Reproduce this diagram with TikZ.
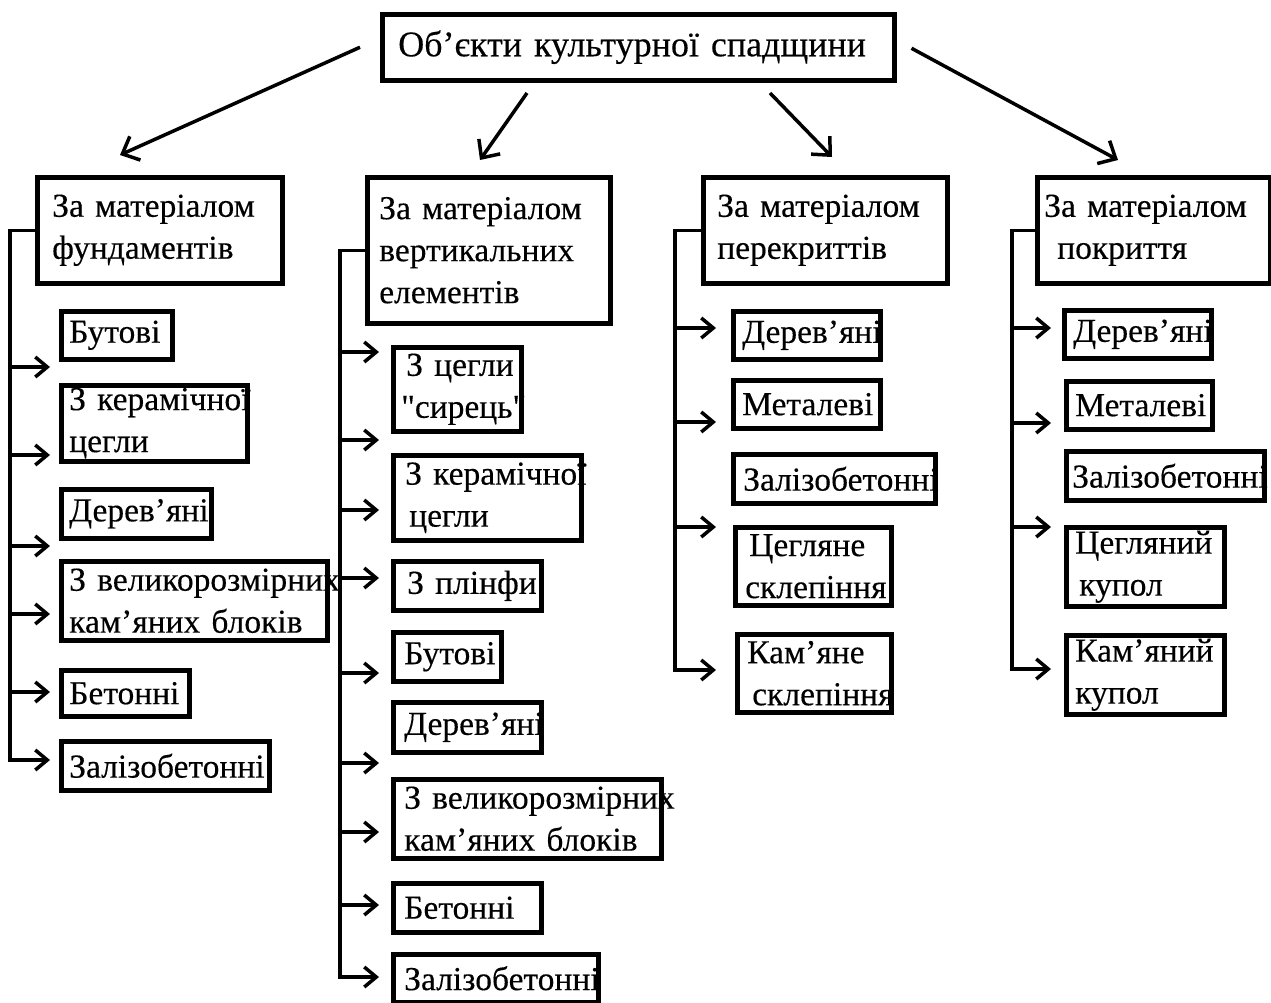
\documentclass[tikz,border=0pt]{standalone}
\usepackage{fontspec}
\newfontfamily\tnr{Liberation Serif}[FakeBold=0.3]
\usetikzlibrary{arrows.meta}
\newcommand{\bfnt}{\tnr\fontsize{33.5}{42}\selectfont}
\newcommand{\tfnt}{\tnr\fontsize{36}{44}\selectfont}
\tikzset{
  bx/.style={draw, line width=4.5pt, anchor=north west, align=left, inner ysep=0pt, font=\bfnt},
  ar/.style={line width=3.5pt, line join=miter, -{Straight Barb[length=12pt,width=20pt]}},
  tar/.style={line width=3.5pt, -{Straight Barb[length=14pt,width=26pt]}},
}
\begin{document}
\begin{tikzpicture}[x=1pt,y=-1pt]
\useasboundingbox (0,0) rectangle (1271,1002);
% title
\node[bx, font=\tfnt, inner xsep=16pt, minimum width=512pt, minimum height=66pt, text width=480pt] (t) at (380,12) {\mbox{Об’єкти культурної спадщини}};
% column 1
\node[bx, inner xsep=15pt, minimum width=245pt, minimum height=106pt, text width=215pt] (h1) at (35,175) {\mbox{За матеріалом}\\\mbox{фундаментів}};
\node[bx, inner xsep=8pt, minimum width=111pt, minimum height=48pt, text width=95pt] (c1a) at (59,309) {\mbox{Бутові}};
\node[bx, inner xsep=8pt, minimum width=186pt, minimum height=76pt, text width=170pt] (c1b) at (59,383) {\mbox{З керамічної}\\\mbox{цегли}};
\node[bx, inner xsep=8pt, minimum width=150pt, minimum height=49pt, text width=134pt] (c1c) at (59,487) {\mbox{Дерев’яні}};
\node[bx, inner xsep=8pt, minimum width=266pt, minimum height=79pt, text width=250pt] (c1d) at (59,559) {\mbox{З великорозмірних}\\\mbox{кам’яних блоків}};
\node[bx, inner xsep=8pt, minimum width=128pt, minimum height=46pt, text width=112pt] (c1e) at (59,668) {\mbox{Бетонні}};
\node[bx, inner xsep=8pt, minimum width=208pt, minimum height=49pt, text width=192pt] (c1f) at (59,739) {\mbox{Залізобетонні}};
% column 2
\node[bx, inner xsep=12pt, minimum width=243pt, minimum height=146pt, text width=219pt] (h2) at (365,175) {\mbox{За матеріалом}\\\mbox{вертикальних}\\\mbox{елементів}};
\node[bx, inner xsep=8pt, minimum width=128pt, minimum height=84pt, text width=112pt] (c2a) at (391,345) {\mbox{\hspace*{5pt}З цегли}\\\mbox{"сирець"}};
\node[bx, inner xsep=12pt, minimum width=188pt, minimum height=85pt, text width=164pt] (c2b) at (391,453) {\mbox{З керамічної}\\\mbox{\hspace*{4pt}цегли}};
\node[bx, inner xsep=14pt, minimum width=148pt, minimum height=49pt, text width=120pt] (c2c) at (391,559) {\mbox{З плінфи}};
\node[bx, inner xsep=11pt, minimum width=108pt, minimum height=49pt, text width=86pt] (c2d) at (391,630) {\mbox{Бутові}};
\node[bx, inner xsep=11pt, minimum width=148pt, minimum height=50pt, text width=126pt] (c2e) at (391,700) {\mbox{Дерев’яні}};
\node[bx, inner xsep=11pt, minimum width=268pt, minimum height=79pt, text width=246pt] (c2f) at (391,777) {\mbox{З великорозмірних}\\\mbox{кам’яних блоків}};
\node[bx, inner xsep=11pt, minimum width=148pt, minimum height=49pt, text width=126pt] (c2g) at (391,881) {\mbox{Бетонні}};
\node[bx, inner xsep=11pt, minimum width=205pt, minimum height=48pt, text width=183pt] (c2h) at (391,952) {\mbox{Залізобетонні}};
% column 3
\node[bx, inner xsep=14pt, minimum width=244pt, minimum height=106pt, text width=216pt] (h3) at (701,175) {\mbox{За матеріалом}\\\mbox{перекриттів}};
\node[bx, inner xsep=9pt, minimum width=147pt, minimum height=48pt, text width=129pt] (c3a) at (731,309) {\mbox{Дерев’яні}};
\node[bx, inner xsep=9pt, minimum width=147pt, minimum height=48pt, text width=129pt] (c3b) at (731,378) {\mbox{Металеві}};
\node[bx, inner xsep=10pt, minimum width=202pt, minimum height=49pt, text width=182pt] (c3c) at (731,452) {\mbox{Залізобетонні}};
\node[bx, inner xsep=10pt, minimum width=156pt, minimum height=78pt, text width=136pt] (c3d) at (733,525) {\mbox{\hspace*{4pt}Цегляне}\\\mbox{склепіння}};
\node[bx, inner xsep=10pt, minimum width=154pt, minimum height=78pt, text width=134pt] (c3e) at (735,632) {\mbox{Кам’яне}\\\mbox{\hspace*{5pt}склепіння}};
% column 4
\node[bx, inner xsep=7pt, minimum width=233pt, minimum height=106pt, text width=219pt] (h4) at (1035,175) {\mbox{За матеріалом}\\\mbox{\hspace*{13pt}покриття}};
\node[bx, inner xsep=9pt, minimum width=147pt, minimum height=48pt, text width=129pt] (c4a) at (1062,308) {\mbox{Дерев’яні}};
\node[bx, inner xsep=9pt, minimum width=146pt, minimum height=48pt, text width=128pt] (c4b) at (1064,379) {\mbox{Металеві}};
\node[bx, inner xsep=6pt, minimum width=198pt, minimum height=49pt, text width=186pt] (c4c) at (1064,449) {\mbox{Залізобетонні}};
\node[bx, inner xsep=9pt, minimum width=158pt, minimum height=79pt, text width=140pt] (c4d) at (1064,525) {\mbox{Цегляний}\\\mbox{\hspace*{4pt}купол}};
\node[bx, inner xsep=9pt, minimum width=158pt, minimum height=79pt, text width=140pt] (c4e) at (1064,633) {\mbox{Кам’яний}\\\mbox{купол}};
% top arrows
\coordinate (e1) at (120,155);
\coordinate (e2) at (480,160);
\coordinate (e3) at (832,157);
\coordinate (e4) at (1118,160);
\draw[tar] ([xshift=-20pt]t.west) -- (e1);
\draw[tar] (527,93) -- (e2);
\draw[tar] (770,93) -- (e3);
\draw[tar] ([xshift=15pt,yshift=-1pt]t.east) -- (e4);
% trunks
\draw[ar] (h1.west) -| (10,760) -- (50,760);
\foreach \y in {367,455,546,614,692} \draw[ar] (10,\y) -- (50,\y);
\draw[ar] (h2.west) -| (340,977) -- (379,977);
\foreach \y in {352,440,510,578,673,763,832,905} \draw[ar] (340,\y) -- (379,\y);
\draw[ar] (h3.west) -| (675,670) -- (716,670);
\foreach \y in {328,422,527} \draw[ar] (675,\y) -- (716,\y);
\draw[ar] (h4.west) -| (1012,669) -- (1051,669);
\foreach \y in {328,423,527} \draw[ar] (1012,\y) -- (1051,\y);
\end{tikzpicture}
\end{document}
